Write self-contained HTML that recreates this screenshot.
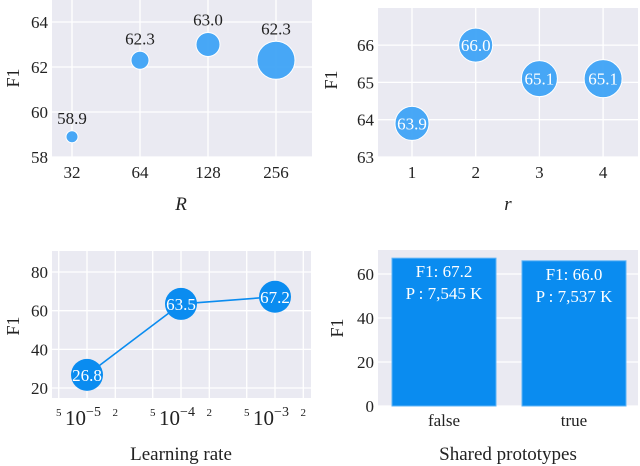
<!DOCTYPE html>
<html><head><meta charset="utf-8"><style>
body{margin:0;background:#fff}
svg{display:block}
svg text{font-family:"Liberation Serif","DejaVu Serif",serif}
</style></head><body>
<svg id="s" width="640" height="466" xmlns="http://www.w3.org/2000/svg" font-family="Liberation Serif, DejaVu Serif, serif"></svg>
<script>
const rCats=["32","64","128","256"];
const rF1=[58.9,62.3,63.0,62.3];
const rSize=[6,9,12,19];
const rTicks=[58,60,62,64];
const smallR=["1","2","3","4"];
const smallRF1=[63.9,66.0,65.1,65.1];
const smallRTicks=[63,64,65,66];
const lrExp=[-5,-4,-3];
const lrF1=[26.8,63.5,67.2];
const lrTicks=[20,40,60,80];
const spCats=["false","true"];
const spF1=[67.2,66.0];
const spParams=["7,545","7,537"];
const spTicks=[0,20,40,60];

const S=document.getElementById('s');
const NS="http://www.w3.org/2000/svg";
const FF="'Liberation Serif','DejaVu Serif',serif";
function el(t,a,p){const e=document.createElementNS(NS,t);for(const k in a)e.setAttribute(k,a[k]);(p||S).appendChild(e);return e;}
function txt(x,y,s,size,extra,p){const e=el('text',Object.assign({x:x,y:y,'font-size':size,'text-anchor':'middle',fill:'#222',style:'font-family:'+FF},extra||{}),p);e.textContent=s;return e;}
function panel(name,x0,x1,y0,y1){const g=el('g',{});
 const bg=el('rect',{x:x0,y:y0,width:x1-x0,height:y1-y0,fill:'#eaeaf2'},g);return g;}
function grid(g,x0,x1,y0,y1,xs,ys){xs.forEach(x=>el('line',{x1:x,x2:x,y1:y0,y2:y1,stroke:'#fff','stroke-width':1.3},g));ys.forEach(y=>el('line',{x1:x0,x2:x1,y1:y,y2:y,stroke:'#fff','stroke-width':1.3},g));}
function ylab(g,x,y,s){const t=txt(x,y,s,18,{transform:`rotate(-90 ${x} ${y})`},g);}

// Panel 1
(function(){const x0=52,x1=312,y0=0,y1=157;const g=panel('chart-R',x0,x1,y0,y1);
 const X=i=>72+i*68, Y=v=>157-(v-58)*22.5;
 grid(g,x0,x1,y0,y1,rCats.map((c,i)=>X(i)),rTicks.map(Y));
 rTicks.forEach(t=>{const e=txt(x0-4,Y(t)+6,String(t),17,{'text-anchor':'end'},g);});
 rCats.forEach((c,i)=>{const e=txt(X(i),178,c,17,{},g);
  const b=el('circle',{cx:X(i),cy:Y(rF1[i]),r:rSize[i],fill:'#3ea3f5','fill-opacity':0.95,stroke:'#fff','stroke-width':1},g);
  const l=txt(X(i),Y(rF1[i])-rSize[i]-7,rF1[i].toFixed(1),17,{},g);});
 const a=txt(181,210,'R',19,{'font-style':'italic'},g);
 ylab(g,19,78,'F1');})();

// Panel 2
(function(){const x0=378,x1=638,y0=8,y1=157;const g=panel('chart-r',x0,x1,y0,y1);
 const X=i=>412+i*63.7, Y=v=>157-(v-63)*37.3;
 grid(g,x0,x1,y0,y1,smallR.map((c,i)=>X(i)),smallRTicks.map(Y));
 smallRTicks.forEach(t=>{const e=txt(x0-4,Y(t)+6,String(t),17,{'text-anchor':'end'},g);});
 smallR.forEach((c,i)=>{const e=txt(X(i),178,c,17,{},g);
  const b=el('circle',{cx:X(i),cy:Y(smallRF1[i]),r:[17,17,18,19][i],fill:'#3ea3f5','fill-opacity':0.95,stroke:'#fff','stroke-width':1},g);
  const l=txt(X(i),Y(smallRF1[i])+6,smallRF1[i].toFixed(1),17,{fill:'#fff'},g);});
 const a=txt(508,210,'r',19,{'font-style':'italic'},g);
 ylab(g,337,80,'F1');})();

// Panel 3
(function(){const x0=52,x1=311,y0=251,y1=398;const g=panel('chart-learning-rate',x0,x1,y0,y1);
 const X=lg=>87+(lg+5)*94, Y=v=>388-(v-20)*1.933;
 const minor=[];[-6,-5,-4,-3].forEach(d=>[2,5].forEach(m=>{const x=X(d+Math.log10(m));if(x>x0&&x<x1)minor.push([x,m]);}));
 grid(g,x0,x1,y0,y1,lrExp.map(X).concat(minor.map(m=>m[0])),lrTicks.map(Y));
 lrTicks.forEach(t=>{const e=txt(x0-4,Y(t)+6,String(t),17,{'text-anchor':'end'},g);});
 minor.forEach(m=>{const e=txt(m[0],416,String(m[1]),11,{},g);});
 lrExp.forEach(d=>{const e=el('text',{x:X(d)-4,y:425,'font-size':21,'text-anchor':'middle',fill:'#222',style:'font-family:'+FF},g);e.textContent='10';const s=el('tspan',{dy:-9,'font-size':14},e);s.textContent='−'+(-d);});
 const ln=el('polyline',{points:lrExp.map((d,i)=>X(d)+','+Y(lrF1[i])).join(' '),fill:'none',stroke:'#0a8cf0','stroke-width':1.6},g);
 lrExp.forEach((d,i)=>{const b=el('circle',{cx:X(d),cy:Y(lrF1[i]),r:16,fill:'#0a8cf0'},g);
  const l=txt(X(d),Y(lrF1[i])+6,lrF1[i].toFixed(1),17,{fill:'#fff'},g);});
 const a=txt(181,460,'Learning rate',19,{},g);
 ylab(g,19,326,'F1');})();

// Panel 4
(function(){const x0=378,x1=638,y0=250,y1=406;const g=panel('chart-shared-prototypes',x0,x1,y0,y1);
 const Y=v=>406-v*2.2, X=i=>444+i*130;
 grid(g,x0,x1,y0,y1,[],spTicks.map(Y));
 spTicks.forEach(t=>{const e=txt(x0-4,Y(t)+6,String(t),17,{'text-anchor':'end'},g);});
 spCats.forEach((c,i)=>{const b=el('rect',{x:X(i)-52,y:Y(spF1[i]),width:104,height:406-Y(spF1[i]),fill:'#0a8cf0',stroke:'#5fb4f7','stroke-width':1},g);
  const l1=txt(X(i),Y(spF1[i])+19,'F1: '+spF1[i].toFixed(1),17,{fill:'#fff'},g);
  const l2=txt(X(i),Y(spF1[i])+41,'P : '+spParams[i]+' K',17,{fill:'#fff'},g);
  const t=txt(X(i),426,c,17,{},g);});
 const a=txt(508,460,'Shared prototypes',19,{},g);
 ylab(g,343,328,'F1');})();
</script>
</body></html>
